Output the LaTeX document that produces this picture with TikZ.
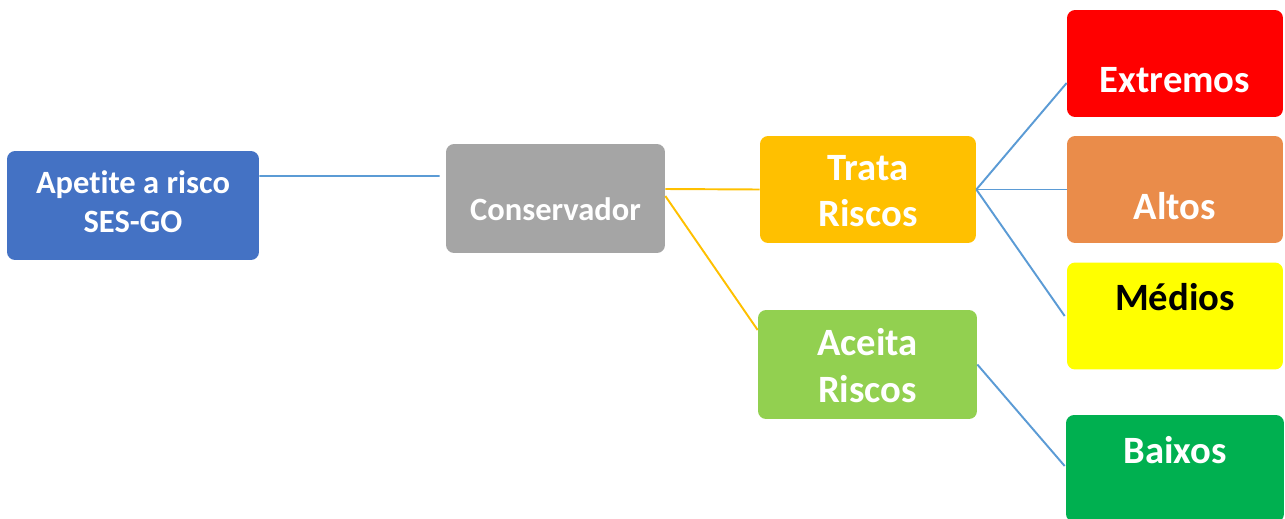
\documentclass[tikz,border=0pt]{standalone}
\usepackage{fontspec}
\setmainfont[Ligatures=NoCommon]{Carlito}
\definecolor{apblue}{HTML}{4472C4}
\definecolor{congray}{HTML}{A5A5A5}
\definecolor{traorange}{HTML}{FFC000}
\definecolor{acegreen}{HTML}{92D050}
\definecolor{extred}{HTML}{FF0000}
\definecolor{altorange}{HTML}{EA8C4A}
\definecolor{medyellow}{HTML}{FFFF00}
\definecolor{baigreen}{HTML}{00B050}
\definecolor{linkblue}{HTML}{5B9BD5}
\tikzset{
  riskbox/.style={rounded corners=0.16cm, inner sep=0pt, draw=none, fill=#1},
  risktext/.style={font=\bfseries\fontsize{22}{26.5}\selectfont, text=white, align=center, inner sep=0pt},
  bluelink/.style={draw=linkblue, line width=1.1pt},
  orangelink/.style={draw=traorange, line width=1.1pt}
}
\begin{document}
\begin{tikzpicture}[x=0.02cm,y=-0.02cm]
\useasboundingbox (0,0) rectangle (1285,518);
% boxes
\node[riskbox=apblue, minimum width=5.04cm, minimum height=2.18cm] (ape) at (133,205.5) {};
\node[riskbox=congray, minimum width=4.38cm, minimum height=2.18cm] (con) at (555.5,198.5) {};
\node[riskbox=traorange, minimum width=4.32cm, minimum height=2.14cm] (tra) at (868,189.5) {};
\node[riskbox=acegreen, minimum width=4.38cm, minimum height=2.18cm] (ace) at (867.5,364.5) {};
\node[riskbox=extred, minimum width=4.32cm, minimum height=2.14cm] (ext) at (1175,63.5) {};
\node[riskbox=altorange, minimum width=4.32cm, minimum height=2.14cm] (alt) at (1175,189.5) {};
\node[riskbox=medyellow, minimum width=4.32cm, minimum height=2.14cm] (med) at (1175,316) {};
\node[riskbox=baigreen, minimum width=4.36cm, minimum height=2.14cm] (bai) at (1175,468.5) {};
% texts
\node[risktext, font=\bfseries\fontsize{18.5}{22.4}\selectfont] (apet) at ([yshift=0.07cm]ape.center) {Apetite a risco\\SES-GO};
\node[risktext, font=\bfseries\fontsize{18.5}{22}\selectfont] (cont) at ([yshift=-0.22cm]con.center) {Conservador};
\node[risktext] (trat) at ([yshift=-0.03cm]tra.center) {Trata\\Riscos};
\node[risktext] (acet) at ([yshift=-0.02cm]ace.center) {Aceita\\Riscos};
\node[risktext] (extt) at ([yshift=-0.34cm]ext.center) {Extremos};
\node[risktext] (altt) at ([yshift=-0.34cm]alt.center) {Altos};
\node[risktext, text=black] (medt) at ([yshift=0.38cm]med.center) {Médios};
\node[risktext] (bait) at ([yshift=0.36cm]bai.center) {Baixos};
% links
\draw[bluelink] ([yshift=0.59cm]ape.east) -- ([xshift=-0.12cm,yshift=0.45cm]con.west);
\draw[orangelink] ([yshift=0.19cm]con.east) -- (tra.west);
\draw[orangelink] ([yshift=0.05cm]con.east) -- ([yshift=0.69cm]ace.west);
\draw[bluelink] (tra.east) -- ([yshift=-0.39cm]ext.west);
\draw[bluelink] (tra.east) -- (alt.west);
\draw[bluelink] (tra.east) -- ([xshift=-0.04cm]med.west);
\draw[bluelink] (ace.east) -- ([xshift=-0.02cm,yshift=0.05cm]bai.west);
\end{tikzpicture}
\end{document}
